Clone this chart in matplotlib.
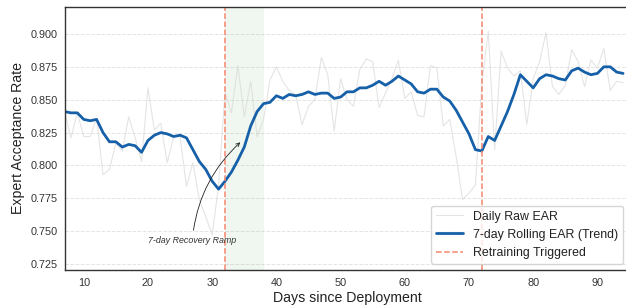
import matplotlib
matplotlib.use("Agg")
import matplotlib.pyplot as plt
import seaborn as sns

sns.set_style("white")
plt.rcParams['font.family'] = ['Liberation Sans', 'DejaVu Sans']

days = list(range(7, 95))

raw_ear = [
    0.841, 0.821, 0.840, 0.822, 0.822, 0.836, 0.793, 0.797, 0.817, 0.811,
    0.837, 0.821, 0.803, 0.859, 0.827, 0.832, 0.802, 0.822, 0.822, 0.784,
    0.802, 0.774, 0.761, 0.747, 0.785, 0.856, 0.840, 0.876, 0.837, 0.864,
    0.822, 0.835, 0.865, 0.875, 0.864, 0.857, 0.854, 0.831, 0.845, 0.850,
    0.882, 0.869, 0.826, 0.866, 0.850, 0.845, 0.873, 0.881, 0.879, 0.844,
    0.855, 0.866, 0.880, 0.851, 0.856, 0.838, 0.837, 0.876, 0.874, 0.830,
    0.835, 0.807, 0.774, 0.779, 0.785, 0.862, 0.902, 0.812, 0.887, 0.874,
    0.868, 0.872, 0.831, 0.866, 0.879, 0.901, 0.860, 0.854, 0.861, 0.888,
    0.879, 0.860, 0.880, 0.874, 0.889, 0.857, 0.864, 0.863,
]

trend_ear = [
    0.841, 0.840, 0.840, 0.835, 0.834, 0.835, 0.825, 0.818, 0.818, 0.814,
    0.816, 0.815, 0.810, 0.819, 0.823, 0.825, 0.824, 0.822, 0.823, 0.821,
    0.812, 0.803, 0.797, 0.788, 0.782, 0.788, 0.795, 0.804, 0.814, 0.830,
    0.841, 0.847, 0.848, 0.853, 0.851, 0.854, 0.853, 0.854, 0.856, 0.854,
    0.855, 0.855, 0.851, 0.852, 0.856, 0.856, 0.859, 0.859, 0.861, 0.864,
    0.861, 0.864, 0.868, 0.865, 0.862, 0.856, 0.855, 0.858, 0.858, 0.852,
    0.849, 0.842, 0.833, 0.824, 0.812, 0.811, 0.822, 0.819, 0.830, 0.841,
    0.854, 0.869, 0.864, 0.859, 0.866, 0.869, 0.868, 0.866, 0.865, 0.872,
    0.874, 0.871, 0.869, 0.870, 0.875, 0.875, 0.871, 0.870,
]

retrain_days = [32, 72]
ramp_start, ramp_end = 32, 38

fig = plt.figure(figsize=(6.26, 3.08), dpi=100)
# axes runs slightly past the right edge of the canvas, as in the reference
ax = fig.add_axes([64.5 / 626, 38 / 308, 565 / 626, 263 / 308])

ax.axvspan(ramp_start, ramp_end, color='green', alpha=0.06, lw=0)
ax.plot(days, raw_ear, color='#d9d9d9', lw=0.8, alpha=0.7, label='Daily Raw EAR')
ax.plot(days, trend_ear, color='#1560a8', lw=2.0, label='7-day Rolling EAR (Trend)')
for i, d in enumerate(retrain_days):
    ax.axvline(d, color='#f4866e', ls='--', lw=1.1,
               label='Retraining Triggered' if i == 0 else None)

ax.annotate('7-day Recovery Ramp', xy=(34.7, 0.819), xytext=(26.9, 0.7427),
            fontsize=6.4, style='italic', color='#333333', ha='center', va='center',
            arrowprops=dict(arrowstyle='->', color='#222222', lw=0.6,
                            connectionstyle='arc3,rad=-0.2'))

ax.set_xlim(7, 95)
ax.set_ylim(0.7205, 0.9205)
ax.set_xticks(range(10, 91, 10))
ax.set_yticks([0.725, 0.75, 0.775, 0.8, 0.825, 0.85, 0.875, 0.9])
ax.set_yticklabels(['0.725', '0.750', '0.775', '0.800', '0.825', '0.850', '0.875', '0.900'])
ax.tick_params(labelsize=7.8, colors='#333333', length=0)
ax.tick_params(axis='x', pad=6)
ax.tick_params(axis='y', pad=5)
ax.grid(axis='y', ls='--', color='#dddddd', lw=0.7, alpha=0.8)
for s in ax.spines.values():
    s.set_color('#333333')
    s.set_linewidth(1.0)

ax.set_xlabel('Days since Deployment', fontsize=10.2, color='#222222', labelpad=2)
ax.set_ylabel('Expert Acceptance Rate', fontsize=10.2, color='#222222', labelpad=4)

leg = ax.legend(loc='lower right', fontsize=8.9, frameon=True, borderaxespad=0.5,
                handlelength=2.2)
leg.get_frame().set_edgecolor('#cccccc')
for t in leg.get_texts():
    t.set_color('#222222')

fig.savefig('out.png', dpi=100)
